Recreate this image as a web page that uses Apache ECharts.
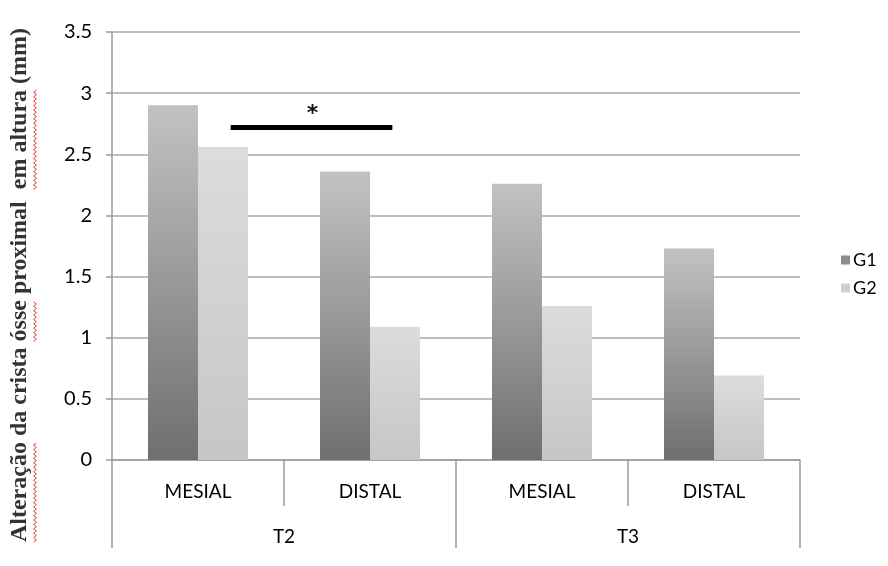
<!DOCTYPE html>
<html>
<head>
<meta charset="utf-8">
<script src="https://cdn.jsdelivr.net/npm/echarts@6/dist/echarts.min.js"></script>
<style>
  html, body { margin: 0; padding: 0; background: #ffffff; }
  #chart { width: 888px; height: 566px; }
</style>
</head>
<body>
<div id="chart"></div>
<script>
// Sites measured inside each time point
const sites = ['MESIAL', 'DISTAL', 'MESIAL', 'DISTAL'];
// Time points grouping the sites (two sites each)
const timePoints = ['T2', 'T3'];
// Group means, crest height change (mm)
const g1 = [2.90, 2.36, 2.26, 1.73];
const g2 = [2.56, 1.09, 1.26, 0.69];
// Value axis
const yTicks = { min: 0, max: 3.5, interval: 0.5 };
// Significance bracket between T2 mesial G2 and T2 distal G1
const sigFrom = 0.19;   // position in category units
const sigTo = 1.13;
const sigLevel = 2.72;
const sigMark = '*';

const yTitle = 'Alteração da crista ósse proximal  em altura (mm)';
// words of the title carrying the red wavy underline
const flaggedWords = ['Alteração', 'ósse', 'em altura'];

const chart = echarts.init(document.getElementById('chart'));

const g1Fill = new echarts.graphic.LinearGradient(0, 0, 0, 1, [
  { offset: 0, color: '#c2c2c2' },
  { offset: 1, color: '#6f6f6f' }
]);
const g2Fill = new echarts.graphic.LinearGradient(0, 0, 0, 1, [
  { offset: 0, color: '#dcdcdc' },
  { offset: 1, color: '#c6c6c6' }
]);

const axisGrey = '#9a9a9a';
const labelFont = 'Lato, "Open Sans", sans-serif';
const labelColor = '#000';
const titleFont = '"Liberation Serif", "Times New Roman", serif';
const titleSize = 24;

chart.setOption({
  backgroundColor: '#ffffff',
  animation: false,
  grid: { left: 112, right: 88, top: 32, bottom: 106, containLabel: false },
  legend: {
    orient: 'vertical',
    left: 836,
    top: 246,
    itemWidth: 9,
    itemHeight: 9,
    itemGap: 10,
    icon: 'rect',
    textStyle: { fontFamily: labelFont, fontSize: 18, color: labelColor, padding: [0, 0, 0, -2] },
    data: [
      { name: 'G1', itemStyle: { color: '#8c8c8c' } },
      { name: 'G2', itemStyle: { color: '#d0d0d0' } }
    ]
  },
  xAxis: [
    {
      type: 'category',
      data: sites,
      position: 'bottom',
      axisLine: { show: true, lineStyle: { color: axisGrey, width: 1.5 } },
      axisTick: { show: true, interval: 0, length: 46, lineStyle: { color: axisGrey, width: 1.5 } },
      axisLabel: { interval: 0, margin: 22, fontFamily: labelFont, fontSize: 19, color: labelColor },
      splitLine: { show: false }
    },
    {
      type: 'category',
      data: timePoints,
      position: 'bottom',
      axisLine: { show: false },
      axisTick: { show: true, interval: 0, length: 88, lineStyle: { color: axisGrey, width: 1.5 } },
      axisLabel: { interval: 0, margin: 67, fontFamily: labelFont, fontSize: 19, color: labelColor },
      splitLine: { show: false }
    }
  ],
  yAxis: {
    type: 'value',
    min: yTicks.min,
    max: yTicks.max,
    interval: yTicks.interval,
    axisLine: { show: true, lineStyle: { color: axisGrey, width: 1.5 } },
    axisTick: { show: true, length: 6, lineStyle: { color: axisGrey, width: 1.5 } },
    axisLabel: {
      margin: 20,
      fontFamily: labelFont,
      fontSize: 20,
      color: labelColor,
      formatter: v => String(v)
    },
    splitLine: { show: true, lineStyle: { color: '#a8a8a8', width: 1.5 } }
  },
  series: [
    {
      name: 'G1',
      type: 'bar',
      xAxisIndex: 0,
      data: g1,
      barWidth: 50,
      barGap: '0%',
      itemStyle: { color: g1Fill }
    },
    {
      name: 'G2',
      type: 'bar',
      xAxisIndex: 0,
      data: g2,
      barWidth: 50,
      barGap: '0%',
      itemStyle: { color: g2Fill }
    }
  ]
});

// Place the significance bracket and the rotated axis title
function drawOverlay() {
  const c0 = chart.convertToPixel({ xAxisIndex: 0 }, 0);
  const c1 = chart.convertToPixel({ xAxisIndex: 0 }, 1);
  const step = c1 - c0;
  const xa = c0 + sigFrom * step;
  const xb = c0 + sigTo * step;
  const ys = chart.convertToPixel({ yAxisIndex: 0 }, sigLevel);

  const titleX = 20;
  const titleY = 285;

  // measure the title so the underlines sit under the right words
  const ctx = document.createElement('canvas').getContext('2d');
  ctx.font = 'bold ' + titleSize + 'px ' + titleFont;
  const total = ctx.measureText(yTitle).width;
  const startY = titleY + total / 2;  // text runs bottom to top

  // red wavy spell-check marks drawn under some words of the title
  function squiggle(word, x) {
    const idx = yTitle.indexOf(word);
    const a = ctx.measureText(yTitle.slice(0, idx)).width;
    const b = a + ctx.measureText(word).width;
    const yLow = startY - a;
    const yHigh = startY - b;
    const pts = [];
    let k = 0;
    for (let y = yLow; y >= yHigh; y -= 2.2) {
      pts.push([x + (k % 2 === 0 ? -1.4 : 1.4), y]);
      k++;
    }
    return {
      type: 'polyline',
      silent: true,
      shape: { points: pts },
      style: { stroke: '#e23b35', lineWidth: 1, fill: null }
    };
  }

  const marks = flaggedWords.map(w => squiggle(w, 35));

  chart.setOption({
    graphic: [
      {
        type: 'line',
        silent: true,
        shape: { x1: xa, y1: ys, x2: xb, y2: ys },
        style: { stroke: '#000', lineWidth: 5 }
      },
      {
        type: 'text',
        silent: true,
        x: (xa + xb) / 2 + 1,
        y: ys - 13,
        style: {
          text: sigMark,
          fontFamily: '"DejaVu Sans", sans-serif',
          fontSize: 22,
          fontWeight: 'bold',
          fill: '#111',
          align: 'center',
          verticalAlign: 'middle'
        }
      },
      {
        type: 'text',
        silent: true,
        x: titleX,
        y: titleY,
        rotation: Math.PI / 2,
        style: {
          text: yTitle,
          fontFamily: titleFont,
          fontWeight: 'bold',
          fontSize: titleSize,
          fill: '#333',
          align: 'center',
          verticalAlign: 'middle'
        }
      }
    ].concat(marks)
  });
}
drawOverlay();
</script>
</body>
</html>
